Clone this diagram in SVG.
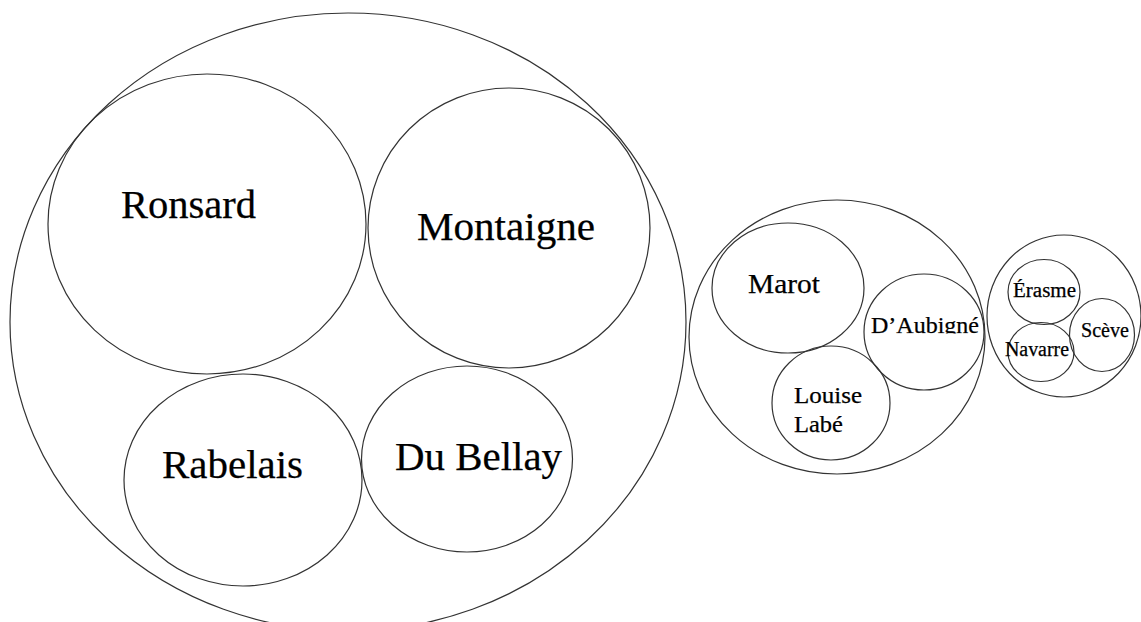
<svg xmlns="http://www.w3.org/2000/svg" width="1141" height="622" viewBox="0 0 1141 622">
<style>
.c{fill:none;stroke:#333;stroke-width:1.2}
.t{font-family:"Liberation Serif","Times New Roman",serif;fill:#000;stroke:#000;stroke-width:0.25}
</style>
<defs>
<clipPath id="clipD"><rect x="860" y="300" width="130" height="33.5"/></clipPath>
</defs>
<rect x="0" y="0" width="1141" height="622" fill="#fff"/>
<g id="group1">
<ellipse class="c" cx="348" cy="322" rx="338" ry="309"/>
</g>
<g id="ronsard">
<ellipse class="c" cx="207" cy="224" rx="159" ry="150"/>
<text class="t" x="121" y="218" font-size="40" textLength="135" lengthAdjust="spacingAndGlyphs">Ronsard</text>
</g>
<g id="montaigne">
<ellipse class="c" cx="509" cy="228" rx="141" ry="140"/>
<text class="t" x="417" y="240" font-size="40" textLength="178" lengthAdjust="spacingAndGlyphs">Montaigne</text>
</g>
<g id="rabelais">
<ellipse class="c" cx="243" cy="480" rx="119" ry="106"/>
<text class="t" x="162" y="478" font-size="40" textLength="141" lengthAdjust="spacingAndGlyphs">Rabelais</text>
</g>
<g id="dubellay">
<ellipse class="c" cx="467" cy="459" rx="105.5" ry="93"/>
<text class="t" x="395" y="470" font-size="40" textLength="167" lengthAdjust="spacingAndGlyphs">Du Bellay</text>
</g>
<g id="group2">
<ellipse class="c" cx="837" cy="337" rx="148" ry="137"/>
</g>
<g id="marot">
<ellipse class="c" cx="788" cy="288" rx="76" ry="65"/>
<text class="t" x="748" y="293" font-size="28" textLength="72" lengthAdjust="spacingAndGlyphs">Marot</text>
</g>
<g id="daubigne">
<ellipse class="c" cx="924" cy="332" rx="60" ry="58"/>
<text class="t" x="871" y="333" font-size="24" textLength="108" lengthAdjust="spacingAndGlyphs" clip-path="url(#clipD)">D’Aubigné</text>
</g>
<g id="louiselabe">
<ellipse class="c" cx="831" cy="403" rx="59" ry="57"/>
<text class="t" x="794" y="403" font-size="24" textLength="68" lengthAdjust="spacingAndGlyphs">Louise</text>
<text class="t" x="794" y="432" font-size="24" textLength="49" lengthAdjust="spacingAndGlyphs">Labé</text>
</g>
<g id="group3">
<ellipse class="c" cx="1064" cy="316" rx="77" ry="81"/>
</g>
<g id="erasme">
<ellipse class="c" cx="1044" cy="292" rx="36" ry="32.5"/>
<text class="t" x="1013" y="297" font-size="20" textLength="63" lengthAdjust="spacingAndGlyphs">Érasme</text>
</g>
<g id="sceve">
<ellipse class="c" cx="1102" cy="335" rx="32.5" ry="36.5"/>
<text class="t" x="1081" y="337" font-size="20" textLength="48" lengthAdjust="spacingAndGlyphs">Scève</text>
</g>
<g id="navarre">
<ellipse class="c" cx="1041" cy="352" rx="33" ry="29.5"/>
<text class="t" x="1005" y="356" font-size="20" textLength="64" lengthAdjust="spacingAndGlyphs">Navarre</text>
</g>
<g id="connectors"></g>
</svg>
